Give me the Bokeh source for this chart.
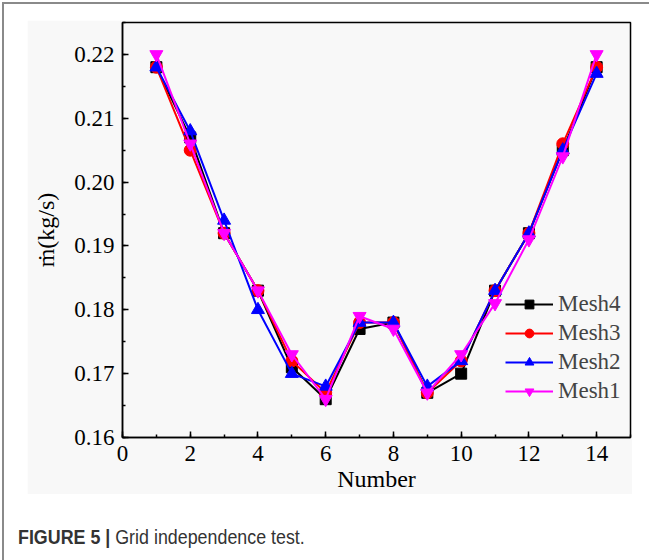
from bokeh.plotting import figure
from bokeh.layouts import column
from bokeh.models import (Legend, LegendItem, Div, FixedTicker, NumeralTickFormatter, Range1d)
from bokeh.embed import file_html
from bokeh.resources import INLINE

number = [1, 2, 3, 4, 5, 6, 7, 8, 9, 10, 11, 12, 13, 14]
mesh4 = [0.218, 0.207, 0.192, 0.183, 0.171, 0.166, 0.177, 0.178, 0.167, 0.170, 0.183, 0.192, 0.205, 0.218]
mesh3 = [0.218, 0.205, 0.192, 0.183, 0.172, 0.167, 0.178, 0.178, 0.167, 0.172, 0.183, 0.192, 0.206, 0.218]
mesh2 = [0.218, 0.208, 0.194, 0.180, 0.170, 0.168, 0.178, 0.178, 0.168, 0.172, 0.183, 0.192, 0.205, 0.217]
mesh1 = [0.220, 0.206, 0.192, 0.183, 0.173, 0.166, 0.179, 0.177, 0.167, 0.173, 0.181, 0.191, 0.204, 0.220]
x_ticks = [0, 2, 4, 6, 8, 10, 12, 14]
y_ticks = [0.16, 0.17, 0.18, 0.19, 0.20, 0.21, 0.22]

SERIF = "Liberation Serif"
BG = "#f8f8f8"

# gray panel: x 27..632, y 20..494 ; frame: x 122..630, y 22..437
p = figure(width=605, height=474, output_backend="svg", toolbar_location=None,
           x_range=Range1d(0, 15), y_range=Range1d(0.16, 0.225),
           min_border_left=95, min_border_right=2, min_border_top=2, min_border_bottom=57,
           background_fill_color=BG, border_fill_color=BG)
p.outline_line_color = "black"
p.outline_line_width = 1.5
p.grid.visible = False

xa = p.xaxis[0]
xa.ticker = FixedTicker(ticks=x_ticks, minor_ticks=list(range(0, 16)))
ya = p.yaxis[0]
ya.ticker = FixedTicker(ticks=y_ticks, minor_ticks=[0.16 + 0.005 * i for i in range(14)])
ya.formatter = NumeralTickFormatter(format="0.00")
for ax in (xa, ya):
    ax.axis_line_color = "black"
    ax.axis_line_width = 1.5
    ax.major_tick_line_color = "black"
    ax.minor_tick_line_color = "black"
    ax.major_tick_line_width = 1.5
    ax.minor_tick_line_width = 1.5
    ax.major_tick_in = 6
    ax.major_tick_out = 0
    ax.minor_tick_in = 3
    ax.minor_tick_out = 0
    ax.major_label_text_font = SERIF
    ax.major_label_text_font_size = "23px"
    ax.major_label_text_color = "black"
    ax.axis_label_text_font = SERIF
    ax.axis_label_text_font_size = "24px"
    ax.axis_label_text_font_style = "normal"
    ax.axis_label_text_color = "black"
xa.axis_label = "Number"
xa.major_label_standoff = 8
xa.axis_label_standoff = 2
ya.axis_label = "\u1e41(kg/s)"
ya.major_label_standoff = 8
ya.axis_label_standoff = 12

series = [("Mesh4", mesh4, "black", "square", 11),
          ("Mesh3", mesh3, "red", "circle", 12),
          ("Mesh2", mesh2, "blue", "triangle", 13),
          ("Mesh1", mesh1, "#ff00ff", "inverted_triangle", 13)]
items = []
for name, vals, col, mk, sz in series:
    r1 = p.line(number, vals, line_color=col, line_width=2)
    r2 = p.scatter(number, vals, marker=mk, size=sz, fill_color=col, line_color=col)
    items.append(LegendItem(label=name, renderers=[r1, r2]))

legend = Legend(items=items, location=(383, 33), padding=0, margin=0, spacing=3,
                glyph_width=48, glyph_height=22, label_height=22, label_standoff=5,
                label_text_font=SERIF, label_text_font_size="23px",
                background_fill_alpha=0, border_line_color=None)
p.add_layout(legend, "center")

# root content origin at (4, 4) after the 2px gray border drawn at x/y = 2..4
p.margin = (16, 0, 0, 23)

caption = Div(text='<span style="display:inline-block; transform:scaleX(0.85); transform-origin:0 50%;">'
                   '<span style="font-weight:bold">FIGURE 5 |</span> Grid independence test.</span>',
              styles={"font-family": "'Liberation Sans', Arial, sans-serif",
                      "font-size": "21px", "color": "#333333", "line-height": "24px",
                      "white-space": "nowrap"},
              margin=(31, 0, 0, 14), width=600, height=24)

root = column(p, caption, spacing=0,
              styles={"border-left": "2px solid #8a8a8a", "border-top": "2px solid #8a8a8a",
                      "margin-left": "2px", "margin-top": "2px",
                      "background-color": "white"},
              width=647, height=570)

open("out.html", "w").write(file_html(root, INLINE))
